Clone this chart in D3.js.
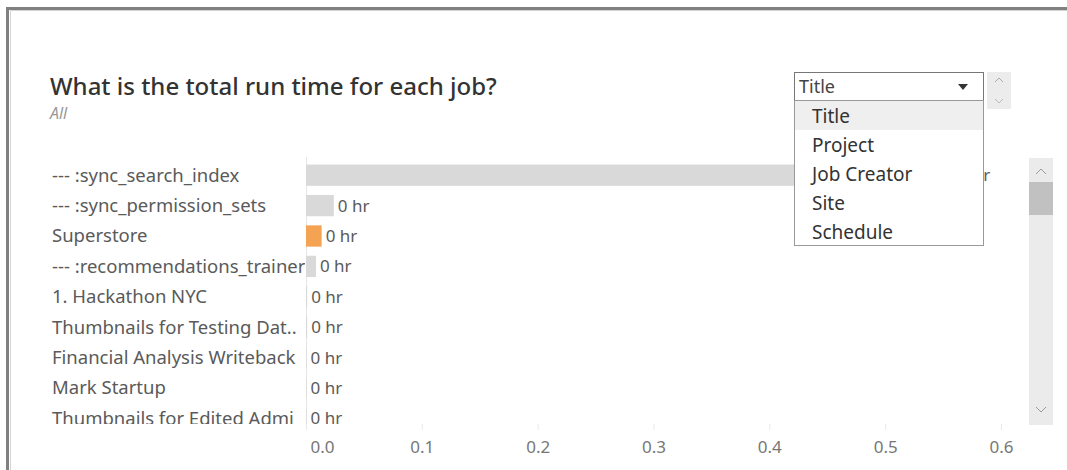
<!DOCTYPE html>
<html>
<head>
<meta charset="utf-8">
<script src="https://cdn.jsdelivr.net/npm/d3@7"></script>
<style>
  body { margin: 0; background: #fff; }
  svg { display: block; font-family: "Noto Sans", "Open Sans", sans-serif; }
</style>
</head>
<body>
<svg id="chart"></svg>
<script>
var w = 1067;
var h = 470;

// job titles as shown (long ones are cut by the view)
var jobs = [
	"--- :sync_search_index",
	"--- :sync_permission_sets",
	"Superstore",
	"--- :recommendations_trainer",
	"1. Hackathon NYC",
	"Thumbnails for Testing Dat..",
	"Financial Analysis Writeback",
	"Mark Startup",
	"Thumbnails for Edited Admi"
];
// total run time, hours
var runHours = [0.56, 0.024, 0.0135, 0.0086, 0.001, 0.001, 0.0005, 0.0005, 0.0005];
var hrLabels = ["0 hr", "0 hr", "0 hr", "0 hr", "0 hr", "0 hr", "0 hr", "0 hr", "0 hr"];
var xTicks = [0, 0.1, 0.2, 0.3, 0.4, 0.5, 0.6];
var menuItems = ["Title", "Project", "Job Creator", "Site", "Schedule"];
var highlighted = "Superstore";

var svg = d3.select("#chart")
	.attr("width", w)
	.attr("height", h);

// dashboard frame
svg.append("rect").attr("x", 6).attr("y", 7).attr("width", w).attr("height", h)
	.attr("fill", "none").attr("stroke", "#808080").attr("stroke-width", 3)
	.attr("transform", "translate(1.5,1.5)");
svg.append("path").attr("d", "M10.5," + h + "V10.5H" + w)
	.attr("fill", "none").attr("stroke", "#d4d4d4");

// titles
svg.append("text").attr("x", 50).attr("y", 95)
	.attr("font-size", 24).attr("font-weight", 500).attr("fill", "#333")
	.text("What is the total run time for each job?");
svg.append("text").attr("x", 50).attr("y", 119)
	.attr("font-size", 16).attr("font-style", "italic").attr("fill", "#999")
	.text("All");

var paneTop = 157, paneBottom = 424;

var x = d3.scaleLinear().domain([0, 0.6]).range([306, 1001]);
var y = d3.scaleBand().domain(jobs).range([160, 160 + 30.4 * jobs.length]).paddingInner(0.3).paddingOuter(0.15);

var defs = svg.append("defs");
defs.append("clipPath").attr("id", "pane")
	.append("rect").attr("x", 0).attr("y", paneTop).attr("width", w).attr("height", paneBottom - paneTop);
defs.append("clipPath").attr("id", "labelclip")
	.append("rect").attr("x", 40).attr("y", paneTop).attr("width", 265).attr("height", paneBottom - paneTop);

var pane = svg.append("g").attr("clip-path", "url(#pane)");

// zero line
pane.append("line").attr("x1", x(0) + 0.5).attr("x2", x(0) + 0.5)
	.attr("y1", paneTop).attr("y2", paneBottom).attr("stroke", "#e6e6e6");

pane.append("g").attr("clip-path", "url(#labelclip)")
	.selectAll("text").data(jobs).enter().append("text")
	.attr("x", 52)
	.attr("y", d => y(d) + y.bandwidth() / 2)
	.attr("dy", "0.35em")
	.attr("font-size", 18.5)
	.attr("fill", "#5a5a5a")
	.text(d => d);

pane.selectAll(".bar").data(jobs).enter().append("rect")
	.attr("class", "bar")
	.attr("x", x(0))
	.attr("y", d => y(d))
	.attr("height", y.bandwidth())
	.attr("width", (d, i) => x(runHours[i]) - x(0))
	.attr("fill", d => d === highlighted ? "#f4a352" : "#d9d9d9");

pane.selectAll(".val").data(jobs).enter().append("text")
	.attr("class", "val")
	.attr("x", (d, i) => x(runHours[i]) + 4)
	.attr("y", d => y(d) + y.bandwidth() / 2)
	.attr("dy", "0.35em")
	.attr("font-size", 17)
	.attr("fill", "#5a5a5a")
	.text((d, i) => hrLabels[i]);

// x axis
var xAxis = svg.append("g").attr("transform", "translate(0," + paneBottom + ")")
	.call(d3.axisBottom(x).tickValues(xTicks).tickFormat(d3.format(".1f")).tickSize(6).tickPadding(11));
xAxis.select(".domain").remove();
xAxis.selectAll(".tick line").attr("stroke", "#e8e8e8");
xAxis.selectAll(".tick text")
	.attr("font-size", 17).attr("fill", "#777").attr("font-family", "Noto Sans, sans-serif")
	.attr("dx", d => d === 0 ? 16 : 0);

// scrollbar
var sb = svg.append("g");
sb.append("rect").attr("x", 1029).attr("y", 158).attr("width", 24).attr("height", 267).attr("fill", "#ebebeb");
sb.append("rect").attr("x", 1029).attr("y", 182).attr("width", 24).attr("height", 33).attr("fill", "#c1c1c1");
sb.append("path").attr("d", "M1036,174l5,-5l5,5").attr("fill", "none").attr("stroke", "#9a9a9a");
sb.append("path").attr("d", "M1036,407l5,5l5,-5").attr("fill", "none").attr("stroke", "#9a9a9a");

// dropdown spinner
var sp = svg.append("g");
sp.append("rect").attr("x", 987).attr("y", 72).attr("width", 24).attr("height", 37).attr("fill", "#ececec");
sp.append("path").attr("d", "M995,82l4,-4l4,4").attr("fill", "none").attr("stroke", "#aaa");
sp.append("path").attr("d", "M995,99l4,4l4,-4").attr("fill", "none").attr("stroke", "#bbb");

// dropdown control
var dd = svg.append("g");
dd.append("rect").attr("x", 794.5).attr("y", 72.5).attr("width", 189).attr("height", 28)
	.attr("fill", "#fff").attr("stroke", "#777");
dd.append("text").attr("x", 799).attr("y", 87).attr("dy", "0.35em")
	.attr("font-size", 18).attr("fill", "#444").text("Title");
dd.append("path").attr("d", "M958,84h10l-5,6z").attr("fill", "#333");

// open menu
var menu = svg.append("g");
menu.append("rect").attr("x", 794.5).attr("y", 100.5).attr("width", 189).attr("height", 145)
	.attr("fill", "#fff").attr("stroke", "#999");
menu.append("rect").attr("x", 795).attr("y", 101).attr("width", 188).attr("height", 29).attr("fill", "#efefef");
menu.selectAll(".item").data(menuItems).enter().append("text")
	.attr("class", "item")
	.attr("x", 812)
	.attr("y", (d, i) => 116 + i * 29)
	.attr("dy", "0.35em")
	.attr("font-size", 19)
	.attr("fill", "#333")
	.text(d => d);
</script>
</body>
</html>
